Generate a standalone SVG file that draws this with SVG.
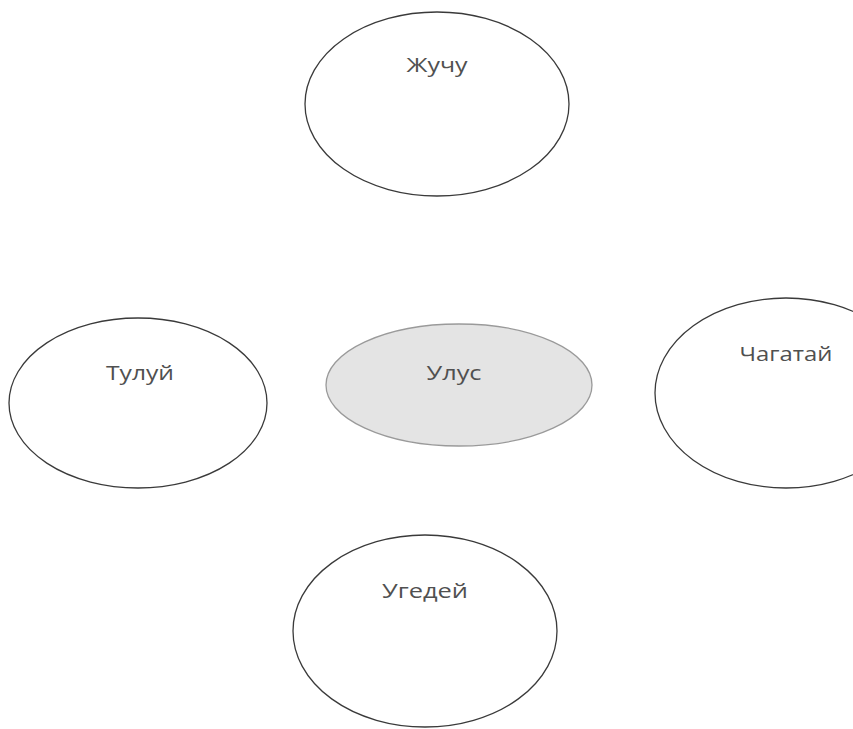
<svg xmlns="http://www.w3.org/2000/svg" width="853" height="729" viewBox="0 0 853 729">
<style>
.n{fill:#ffffff;stroke:#3a3a3a;stroke-width:1.3}
.c{fill:#e4e4e4;stroke:#9a9a9a;stroke-width:1.3}
.t{font-family:"Open Sans","Noto Sans","Liberation Sans",sans-serif;font-size:20px;fill:#505050;text-anchor:middle}
</style>
<rect width="853" height="729" fill="#ffffff"/>
<g id="connectors"/>
<g id="zhuchu">
<ellipse class="n" cx="437" cy="104" rx="132" ry="92"/>
<text class="t" x="437" y="72" textLength="61" lengthAdjust="spacingAndGlyphs">Жучу</text>
</g>
<g id="tuluy">
<ellipse class="n" cx="138" cy="403" rx="129" ry="85"/>
<text class="t" x="140" y="380" textLength="68" lengthAdjust="spacingAndGlyphs">Тулуй</text>
</g>
<g id="ulus">
<ellipse class="c" cx="459" cy="385" rx="133" ry="61"/>
<text class="t" x="454" y="380" textLength="55" lengthAdjust="spacingAndGlyphs">Улус</text>
</g>
<g id="chagatay">
<ellipse class="n" cx="786" cy="393" rx="131" ry="95"/>
<text class="t" x="786" y="361" textLength="93" lengthAdjust="spacingAndGlyphs">Чагатай</text>
</g>
<g id="ugedey">
<ellipse class="n" cx="425" cy="631" rx="132" ry="96"/>
<text class="t" x="425" y="598" textLength="86" lengthAdjust="spacingAndGlyphs">Угедей</text>
</g>
</svg>
